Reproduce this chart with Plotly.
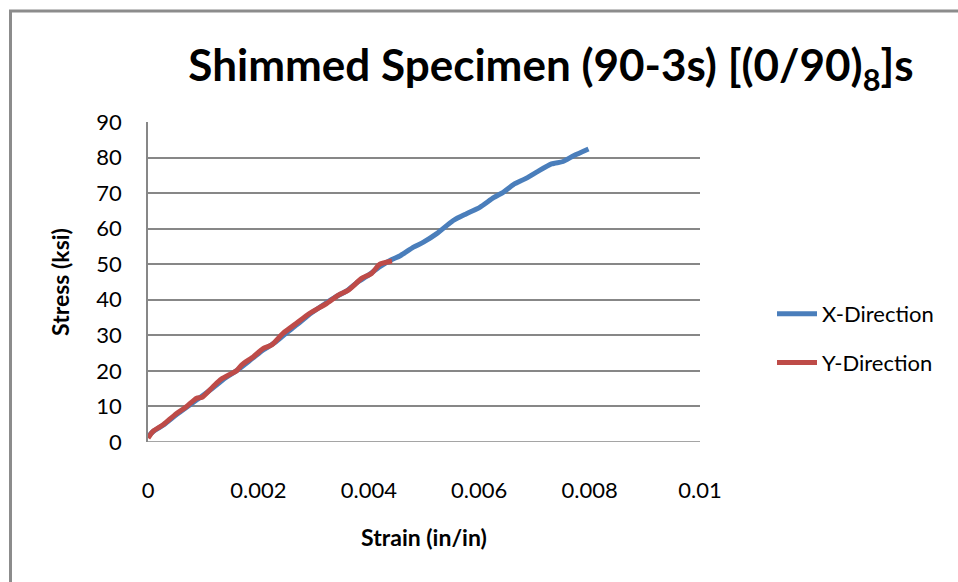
import plotly.graph_objects as go

# X-Direction series (strain in/in, stress ksi)
x_dir_strain = [0.0, 0.0001, 0.0003, 0.0005, 0.0007, 0.0009, 0.00115, 0.0014, 0.0016,
                0.0019, 0.0021, 0.0023, 0.0025, 0.0027, 0.0029, 0.0032, 0.0034, 0.0036,
                0.0038, 0.0040, 0.0042, 0.0044, 0.00457, 0.00481, 0.00499, 0.00523,
                0.00553, 0.00577, 0.00601, 0.00626, 0.00644, 0.00662, 0.00683, 0.00704,
                0.00731, 0.00752, 0.00771, 0.00798]
x_dir_stress = [1.6, 3.0, 5.0, 7.5, 9.8, 12.0, 14.9, 18.0, 20.0,
                23.6, 26.0, 28.0, 30.6, 33.0, 35.6, 38.8, 40.8, 42.5,
                45.0, 47.0, 49.3, 51.2, 52.4, 54.8, 56.2, 58.6,
                62.3, 64.2, 66.0, 68.7, 70.3, 72.4, 74.0, 75.9,
                78.2, 78.9, 80.5, 82.4]

# Y-Direction series
y_dir_strain = [0.0, 0.00009, 0.00028, 0.00049, 0.0007, 0.00088, 0.00098, 0.00118,
                0.00133, 0.00161, 0.0017, 0.00191, 0.00209, 0.00224, 0.00245, 0.00269,
                0.00293, 0.00324, 0.00345, 0.00363, 0.00387, 0.00405, 0.0042, 0.00442]
y_dir_stress = [1.1, 3.0, 4.9, 7.7, 10.0, 12.3, 12.6, 15.6,
                17.7, 20.1, 21.7, 24.0, 26.3, 27.3, 30.6, 33.4,
                36.2, 39.0, 41.3, 42.7, 46.0, 47.4, 50.0, 50.9]

x_ticks = [0, 0.002, 0.004, 0.006, 0.008, 0.01]
x_tick_labels = ["0", "0.002", "0.004", "0.006", "0.008", "0.01"]
y_ticks = [0, 10, 20, 30, 40, 50, 60, 70, 80, 90]

title_text = "<b>Shimmed Specimen (90-3s) [(0/90)<sub>8</sub>]s</b>"

FONT = "Lato"
GRID = "#878787"

fig = go.Figure()
fig.add_trace(go.Scatter(x=x_dir_strain, y=x_dir_stress, mode="lines", name="X-Direction",
                         legendgroup="a",
                         line=dict(color="#4A7EBB", width=5, shape="spline", smoothing=0.6)))
fig.add_trace(go.Scatter(x=y_dir_strain, y=y_dir_stress, mode="lines", name="Y-Direction",
                         legendgroup="b",
                         line=dict(color="#BE4B48", width=5, shape="spline", smoothing=0.6)))

L, R, T, B = 148, 700, 121.7, 442.3
W, H = 958, 582

def px_to_paper_x(px):
    return (px - L) / (R - L)

def px_to_paper_y(py):
    return (B - py) / (B - T)

fig.update_layout(
    width=W, height=H,
    margin=dict(l=L, r=W - R, t=T, b=H - B, pad=0),
    paper_bgcolor="white", plot_bgcolor="white",
    font=dict(family=FONT, size=22, color="black"),
    title=dict(text=title_text, font=dict(family=FONT, size=44, color="black"),
               x=551 / W, xanchor="center", y=1 - 66 / H, yanchor="middle"),
    xaxis=dict(range=[0, 0.01], tickvals=x_ticks, ticktext=x_tick_labels,
               showgrid=False, zeroline=False, showline=False, ticks="",
               ticklabelstandoff=33, tickfont=dict(size=22),
               title=dict(text="<b>Strain (in/in)</b>", font=dict(size=23), standoff=27),
               fixedrange=True),
    yaxis=dict(range=[0, 90], tickvals=y_ticks, showgrid=True, gridcolor=GRID, gridwidth=1.5,
               zeroline=False, showline=True, linecolor=GRID, linewidth=1.5, ticks="",
               ticklabelstandoff=20, tickfont=dict(size=22),
               title=dict(text="<b>Stress (ksi)</b>", font=dict(size=23), standoff=20),
               fixedrange=True),
    legend=dict(x=px_to_paper_x(772), xanchor="left", y=px_to_paper_y(293), yanchor="top",
                font=dict(family=FONT, size=22), tracegroupgap=17,
                bgcolor="rgba(0,0,0,0)", itemwidth=40),
    showlegend=True,
)

# bottom axis line at 0 (the 0 gridline)
fig.add_shape(type="line", xref="paper", yref="y", x0=0, x1=1, y0=0, y1=0,
              line=dict(color=GRID, width=1.5), layer="below")

# outer chart border
fig.add_shape(type="rect", xref="paper", yref="paper",
              x0=px_to_paper_x(10.5), x1=px_to_paper_x(990),
              y0=px_to_paper_y(620), y1=px_to_paper_y(10.5),
              line=dict(color="#8C8C8C", width=3), fillcolor="rgba(0,0,0,0)")

fig.write_html("out.html")
